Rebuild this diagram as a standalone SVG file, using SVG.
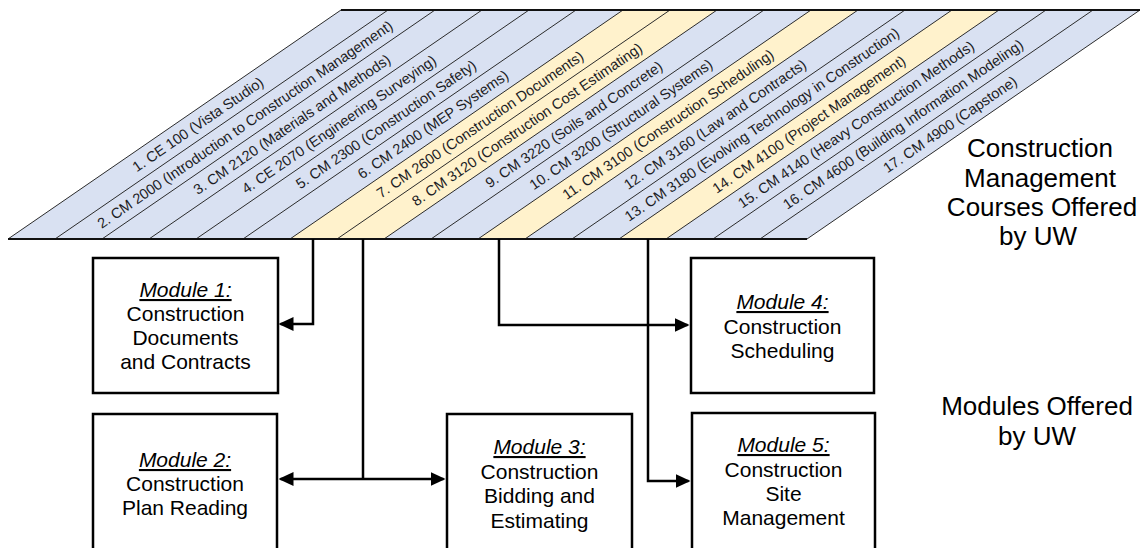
<svg xmlns="http://www.w3.org/2000/svg" width="1141" height="548" viewBox="0 0 1141 548">
  <defs>
    <style>
      .band-blue { fill: #d9e1f2; }
      .band-yellow { fill: #fff2cc; }
      .divider { stroke: #2b2b2b; stroke-width: 1; fill: none; }
      .edge-thin { stroke: #2b2b2b; stroke-width: 1; fill: none; }
      .edge-thick { stroke: #111; stroke-width: 2; fill: none; }
      .course { font-family: "Liberation Sans", Arial, sans-serif; font-size: 14.5px; fill: #1c1c24; text-anchor: middle; }
      .box { fill: #fff; stroke: #000; stroke-width: 2.5; }
      .mod { font-family: "Liberation Sans", Arial, sans-serif; font-size: 21px; fill: #000; text-anchor: middle; }
      .mod-title { font-style: italic; text-decoration: underline; }
      .side { font-family: "Liberation Sans", Arial, sans-serif; font-size: 26px; fill: #000; text-anchor: middle; }
      .wire { stroke: #000; stroke-width: 2.5; fill: none; }
    </style>
    <marker id="arrow" viewBox="0 0 15 14" refX="13" refY="7" markerWidth="15" markerHeight="14" markerUnits="userSpaceOnUse" orient="auto-start-reverse">
      <path d="M0,0 L15,7 L0,14 z" fill="#000"/>
    </marker>
  </defs>

  <!-- Course band: slanted parallelogram split into 17 stripes -->
  <g id="courses">
    <polygon class="band-blue" points="8,239 341,10 1140,10 807,239"/>
    <polygon class="band-yellow" points="290,239 623,10 717,10 384,239"/>
    <polygon class="band-yellow" points="478,239 811,10 858,10 525,239"/>
    <polygon class="band-yellow" points="619,239 952,10 999,10 666,239"/>
    <g class="divider">
      <line x1="55" y1="239" x2="388" y2="10"/>
      <line x1="102" y1="239" x2="435" y2="10"/>
      <line x1="149" y1="239" x2="482" y2="10"/>
      <line x1="196" y1="239" x2="529" y2="10"/>
      <line x1="243" y1="239" x2="576" y2="10"/>
      <line x1="290" y1="239" x2="623" y2="10"/>
      <line x1="337" y1="239" x2="670" y2="10"/>
      <line x1="384" y1="239" x2="717" y2="10"/>
      <line x1="431" y1="239" x2="764" y2="10"/>
      <line x1="478" y1="239" x2="811" y2="10"/>
      <line x1="525" y1="239" x2="858" y2="10"/>
      <line x1="572" y1="239" x2="905" y2="10"/>
      <line x1="619" y1="239" x2="952" y2="10"/>
      <line x1="666" y1="239" x2="999" y2="10"/>
      <line x1="713" y1="239" x2="1046" y2="10"/>
      <line x1="760" y1="239" x2="1093" y2="10"/>
    </g>
    <line class="edge-thin" x1="8" y1="239" x2="341" y2="10"/>
    <line class="edge-thin" x1="807" y1="239" x2="1140" y2="10"/>
    <line class="edge-thick" x1="341" y1="10" x2="1140" y2="10"/>
    <line class="edge-thick" x1="8" y1="239" x2="807" y2="239"/>

    <text class="course" transform="translate(198,124.5) rotate(-34.5)" dy="5">1. CE 100 (Vista Studio)</text>
    <text class="course" transform="translate(245,124.5) rotate(-34.5)" dy="5">2. CM 2000 (Introduction to Construction Management)</text>
    <text class="course" transform="translate(292,124.5) rotate(-34.5)" dy="5">3. CM 2120 (Materials and Methods)</text>
    <text class="course" transform="translate(339,124.5) rotate(-34.5)" dy="5">4. CE 2070 (Engineering Surveying)</text>
    <text class="course" transform="translate(386,124.5) rotate(-34.5)" dy="5">5. CM 2300 (Construction Safety)</text>
    <text class="course" transform="translate(433,124.5) rotate(-34.5)" dy="5">6. CM 2400 (MEP Systems)</text>
    <text class="course" transform="translate(480,124.5) rotate(-34.5)" dy="5">7. CM 2600 (Construction Documents)</text>
    <text class="course" transform="translate(527,124.5) rotate(-34.5)" dy="5">8. CM 3120 (Construction Cost Estimating)</text>
    <text class="course" transform="translate(574,124.5) rotate(-34.5)" dy="5">9. CM 3220 (Soils and Concrete)</text>
    <text class="course" transform="translate(621,124.5) rotate(-34.5)" dy="5">10. CM 3200 (Structural Systems)</text>
    <text class="course" transform="translate(668,124.5) rotate(-34.5)" dy="5">11. CM 3100 (Construction Scheduling)</text>
    <text class="course" transform="translate(715,124.5) rotate(-34.5)" dy="5">12. CM 3160 (Law and Contracts)</text>
    <text class="course" transform="translate(762,124.5) rotate(-34.5)" dy="5">13. CM 3180 (Evolving Technology in Construction)</text>
    <text class="course" transform="translate(809,124.5) rotate(-34.5)" dy="5">14. CM 4100 (Project Management)</text>
    <text class="course" transform="translate(856,124.5) rotate(-34.5)" dy="5">15. CM 4140 (Heavy Construction Methods)</text>
    <text class="course" transform="translate(903,124.5) rotate(-34.5)" dy="5">16. CM 4600 (Building Information Modeling)</text>
    <text class="course" transform="translate(950,124.5) rotate(-34.5)" dy="5">17. CM 4900 (Capstone)</text>
  </g>

  <!-- Connectors from course stripes to modules -->
  <g id="connectors">
    <path class="wire" d="M313,239 V324 H280.5" marker-end="url(#arrow)"/>
    <path class="wire" d="M363,239 V479"/>
    <path class="wire" d="M280.5,479 H443.5" marker-start="url(#arrow)" marker-end="url(#arrow)"/>
    <path class="wire" d="M499,239 V325 H687.5" marker-end="url(#arrow)"/>
    <path class="wire" d="M648,239 V481 H688.5" marker-end="url(#arrow)"/>
  </g>

  <g id="module1">
    <rect class="box" x="93" y="258" width="185" height="135"/>
    <text class="mod mod-title" x="185.5" y="297">Module 1:</text>
    <text class="mod" x="185.5" y="321">Construction</text>
    <text class="mod" x="185.5" y="345">Documents</text>
    <text class="mod" x="185.5" y="369">and Contracts</text>
  </g>

  <g id="module2">
    <rect class="box" x="93" y="414" width="184" height="150"/>
    <text class="mod mod-title" x="185" y="467">Module 2:</text>
    <text class="mod" x="185" y="491">Construction</text>
    <text class="mod" x="185" y="515">Plan Reading</text>
  </g>

  <g id="module3">
    <rect class="box" x="447" y="414" width="185" height="150"/>
    <text class="mod mod-title" x="539.5" y="454">Module 3:</text>
    <text class="mod" x="539.5" y="478.5">Construction</text>
    <text class="mod" x="539.5" y="503">Bidding and</text>
    <text class="mod" x="539.5" y="527.5">Estimating</text>
  </g>

  <g id="module4">
    <rect class="box" x="691" y="258" width="183" height="135"/>
    <text class="mod mod-title" x="782.5" y="309">Module 4:</text>
    <text class="mod" x="782.5" y="333.5">Construction</text>
    <text class="mod" x="782.5" y="358">Scheduling</text>
  </g>

  <g id="module5">
    <rect class="box" x="692" y="413" width="183" height="150"/>
    <text class="mod mod-title" x="783.5" y="452">Module 5:</text>
    <text class="mod" x="783.5" y="476.5">Construction</text>
    <text class="mod" x="783.5" y="501">Site</text>
    <text class="mod" x="783.5" y="525">Management</text>
  </g>

  <g id="label-courses">
    <text class="side" x="1040" y="157">Construction</text>
    <text class="side" x="1040" y="186.5">Management</text>
    <text class="side" x="1042" y="216">Courses Offered</text>
    <text class="side" x="1038" y="245">by UW</text>
  </g>

  <g id="label-modules">
    <text class="side" x="1037" y="415">Modules Offered</text>
    <text class="side" x="1037" y="445">by UW</text>
  </g>
</svg>
